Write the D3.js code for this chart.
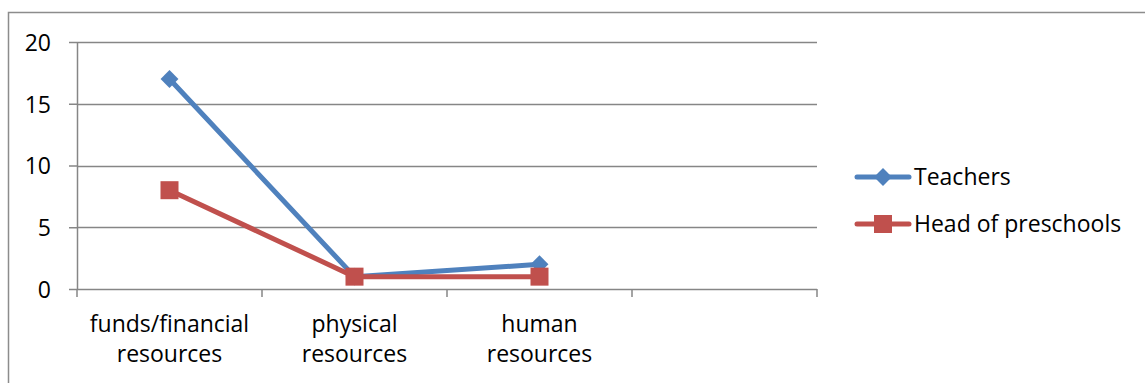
<!DOCTYPE html>
<html>
<head>
<meta charset="utf-8">
<script src="https://cdn.jsdelivr.net/npm/d3@7"></script>
<style>
  html, body { margin: 0; padding: 0; background: #fff; }
  svg text { font-family: "Open Sans", "Noto Sans", sans-serif; fill: #000; }
</style>
</head>
<body>
<svg id="chart" width="1145" height="383"></svg>
<script>
// Categories along the x axis (the last slot is left empty)
const categories = ["funds/financial resources", "physical resources", "human resources", ""];
const categoryLines = [["funds/financial", "resources"], ["physical", "resources"], ["human", "resources"], []];
const seriesNames = ["Teachers", "Head of preschools"];
const teachers = [17, 1, 2];
const heads = [8, 1, 1];
const yTicks = [0, 5, 10, 15, 20];

const colors = ["#4f81bd", "#c0504d"];
const fontSize = 23;
const lineWidth = 5;
const svg = d3.select("#chart");

// Outer frame (top and left edges)
svg.append("path")
  .attr("d", "M8.5,383 V12.5 H1145")
  .attr("fill", "none").attr("stroke", "#8c8c8c").attr("stroke-width", 1.5);

const plot = { left: 77, right: 817, top: 42, bottom: 289 };

const x = d3.scaleBand().domain(categories.map((c, i) => i)).range([plot.left, plot.right]);
const y = d3.scaleLinear().domain([0, 20]).range([plot.bottom, plot.top]);

// Horizontal gridlines
svg.append("g").selectAll("line").data(yTicks.filter(t => t > 0)).join("line")
  .attr("x1", plot.left).attr("x2", plot.right)
  .attr("y1", d => Math.round(y(d)) + 0.5).attr("y2", d => Math.round(y(d)) + 0.5)
  .attr("stroke", "#868686").attr("stroke-width", 1.5);

// Y axis
const yAxis = svg.append("g").attr("transform", `translate(${plot.left},0)`)
  .call(d3.axisLeft(y).tickValues(yTicks).tickSize(8).tickPadding(18).tickSizeOuter(0));
yAxis.selectAll("path, line").attr("stroke", "#868686").attr("stroke-width", 1.5);
yAxis.selectAll("text").attr("font-size", fontSize).attr("dy", "0.36em")
  .style("font-family", "'Open Sans', sans-serif");

// X axis with ticks at band boundaries
const boundaries = d3.range(categories.length + 1).map(i => plot.left + i * x.step());
svg.append("line").attr("x1", plot.left).attr("x2", plot.right)
  .attr("y1", plot.bottom + 0.5).attr("y2", plot.bottom + 0.5)
  .attr("stroke", "#868686").attr("stroke-width", 1.5);
svg.append("g").selectAll("line").data(boundaries).join("line")
  .attr("x1", d => d).attr("x2", d => d)
  .attr("y1", plot.bottom).attr("y2", plot.bottom + 8)
  .attr("stroke", "#868686").attr("stroke-width", 1.5);

// Category labels (two lines each)
const lab = svg.append("g").selectAll("text").data(categoryLines).join("text")
  .attr("x", (d, i) => x(i) + x.bandwidth() / 2)
  .attr("text-anchor", "middle").attr("font-size", fontSize);
lab.selectAll("tspan").data(d => d).join("tspan")
  .attr("x", function () { return this.parentNode.getAttribute("x"); })
  .attr("y", (d, j) => 332 + j * 30)
  .text(d => d);

// Lines and markers
const series = [teachers, heads];
const line = d3.line().x((d, i) => x(i) + x.bandwidth() / 2).y(d => y(d));

series.forEach((vals, s) => {
  svg.append("path").datum(vals)
    .attr("d", line).attr("fill", "none")
    .attr("stroke", colors[s]).attr("stroke-width", lineWidth)
    .attr("stroke-linejoin", "round").attr("stroke-linecap", "round");
});

svg.append("g").selectAll("path").data(teachers).join("path")
  .attr("transform", (d, i) => `translate(${x(i) + x.bandwidth() / 2},${y(d)}) rotate(45)`)
  .attr("d", d3.symbol().type(d3.symbolSquare).size(160)).attr("fill", colors[0]);
svg.append("g").selectAll("rect").data(heads).join("rect")
  .attr("x", (d, i) => x(i) + x.bandwidth() / 2 - 9)
  .attr("y", d => y(d) - 9)
  .attr("width", 18).attr("height", 18).attr("fill", colors[1]);

// Legend
const legend = svg.append("g").selectAll("g").data(seriesNames).join("g")
  .attr("transform", (d, i) => `translate(855,${177 + i * 47})`);
legend.append("line").attr("x1", 2).attr("x2", 54).attr("y1", 0).attr("y2", 0)
  .attr("stroke", (d, i) => colors[i]).attr("stroke-width", lineWidth).attr("stroke-linecap", "round");
legend.each(function (d, i) {
  const g = d3.select(this);
  if (i === 0) {
    g.append("path").attr("transform", "translate(28,0) rotate(45)")
      .attr("d", d3.symbol().type(d3.symbolSquare).size(160)).attr("fill", colors[0]);
  } else {
    g.append("rect").attr("x", 19).attr("y", -9).attr("width", 18).attr("height", 18).attr("fill", colors[1]);
  }
});
legend.append("text").attr("x", 59).attr("y", 0).attr("dy", "0.36em")
  .attr("font-size", fontSize).text(d => d);
</script>
</body>
</html>
